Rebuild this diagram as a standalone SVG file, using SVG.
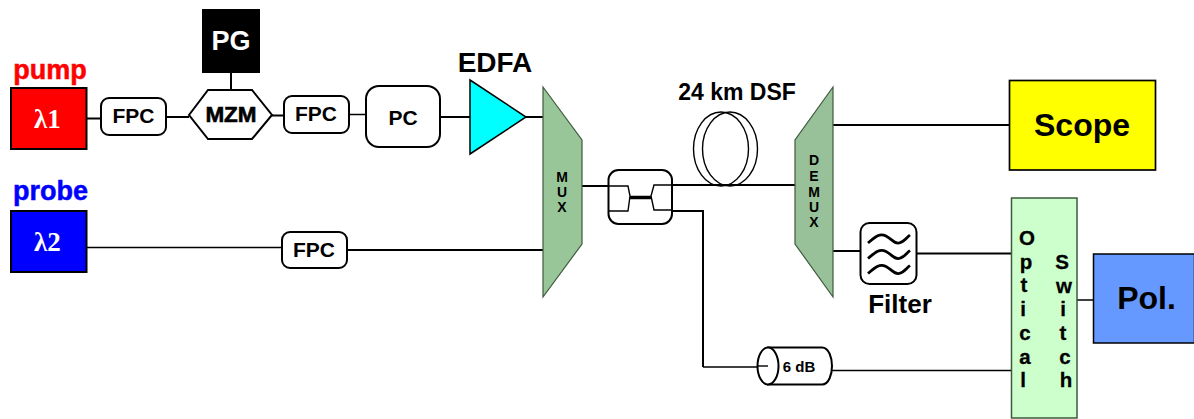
<svg xmlns="http://www.w3.org/2000/svg" width="1194" height="419" viewBox="0 0 1194 419">
<style>
text{font-family:"Liberation Sans",Arial,sans-serif;font-weight:700;text-anchor:middle;fill:#000}
.box{fill:#fff;stroke:#000;stroke-width:2}
.w1{fill:none;stroke:#000;stroke-width:1.4}
.w2{fill:none;stroke:#000;stroke-width:2}
.sym{font-family:"Liberation Serif",serif;fill:#fff;font-size:27px}
.fpc{font-size:21px}
.sm{font-size:14px}
.sw{font-size:20.500px;stroke:#000;stroke-width:.3}
.wave{fill:none;stroke:#000;stroke-width:2.8}
</style>
<rect width="1194" height="419" fill="#fff"/>
<g id="connectors">
<path class="w2" d="M86 118.500H101M166 117H189M272 115.500H283M231 73V90M440 117H470M526 117H543M347 250H543"/>
<path class="w1" d="M349 114.500H366M86 247.500H282M703 367H757M832 370.500H1011M1077 300H1093"/>
<path class="w2" d="M581 186H608M672 185H795M672 211H703V367M833 125H1009M833 251H860M916 253.500H1011"/>
</g>
<g id="pump"><text x="50" y="79" font-size="27" style="fill:#f00;stroke:#f00;stroke-width:.5">pump</text><rect x="11" y="88" width="75.500" height="61" fill="#f00" stroke="#000" stroke-width="2"/><text class="sym" x="47.500" y="128">λ1</text></g>
<g id="probe"><text x="50.500" y="200" font-size="27" style="fill:#00f;stroke:#00f;stroke-width:.5">probe</text><rect x="11" y="211" width="75.500" height="61" fill="#00f" stroke="#000" stroke-width="2"/><text class="sym" x="47.500" y="251">λ2</text></g>
<g id="pg"><rect x="202" y="9" width="58" height="64" fill="#000"/><text x="231" y="50" font-size="27" style="fill:#fff">PG</text></g>
<g id="mzm"><polygon class="box" points="189,115 208,90 252,90 272,115 252,139 208,139"/><text x="231" y="122" font-size="22.500" stroke="#000" stroke-width=".6">MZM</text></g>
<g id="fpc1"><rect class="box" x="101" y="98" width="65" height="37" rx="8"/><text class="fpc" x="133.500" y="123">FPC</text></g>
<g id="fpc2"><rect class="box" x="284" y="96" width="65" height="37" rx="8"/><text class="fpc" x="316" y="121">FPC</text></g>
<g id="fpc3"><rect class="box" x="282" y="232" width="65" height="36" rx="8"/><text class="fpc" x="314" y="257">FPC</text></g>
<g id="pc"><rect class="box" x="366" y="86" width="74" height="61" rx="13"/><text x="403" y="125" font-size="21">PC</text></g>
<g id="edfa"><polygon points="470,80 526,117 470,154" fill="#0ff" stroke="#000" stroke-width="1.500"/><text x="495" y="72" font-size="28">EDFA</text></g>
<g id="mux"><polygon points="543,87 582,140 582,244 543,297" fill="#99c699" stroke="#3c5a3c" stroke-width="1.200"/><text class="sm" x="562" y="182">M</text><text class="sm" x="562" y="197">U</text><text class="sm" x="562" y="212">X</text></g>
<g id="coupler"><rect class="box" x="608.500" y="170" width="63.500" height="54" rx="10"/><path class="w1" d="M609 186H628L630 196L628 211H609M672 185H654L651 196L654 210H672"/><path d="M630 197.500H651" stroke="#000" stroke-width="3.500"/></g>
<g id="dsf"><text x="737" y="100" font-size="23">24 km DSF</text><ellipse class="w1" cx="721" cy="149" rx="27.500" ry="37"/><ellipse class="w1" cx="730" cy="149" rx="27.500" ry="37"/></g>
<g id="demux"><polygon points="833,87 795,140 795,244 833,297" fill="#99c199" stroke="#3c5a3c" stroke-width="1.200"/><text class="sm" x="814" y="165">D</text><text class="sm" x="814" y="181">E</text><text class="sm" x="814" y="197">M</text><text class="sm" x="814" y="212">U</text><text class="sm" x="814" y="227">X</text></g>
<g id="scope"><rect x="1009.500" y="80.500" width="146" height="89.500" fill="#ff0" stroke="#000" stroke-width="1.700"/><text x="1082" y="136" font-size="32">Scope</text></g>
<g id="filter"><rect class="box" x="860.500" y="223" width="56" height="61" rx="9"/><path class="wave" d="M868 243C876 236 880 233 886 236S894 244 899 243S906 238 910 235M868 258.500C876 251.500 880 248.500 886 251.500S894 259.500 899 258.500S906 253.500 910 250.500M868 273.500C876 266.500 880 263.500 886 266.500S894 274.500 899 273.500S906 268.500 910 265.500"/><text x="900" y="313" font-size="26">Filter</text></g>
<g id="switch"><rect x="1011.500" y="198" width="65.500" height="220" fill="#cfc" stroke="#3c5a3c" stroke-width="1.500"/><text class="sw" x="1027" y="245">O</text><text class="sw" x="1026" y="269">p</text><text class="sw" x="1024" y="292">t</text><text class="sw" x="1023" y="316">i</text><text class="sw" x="1025" y="340">c</text><text class="sw" x="1025" y="364">a</text><text class="sw" x="1023" y="387">l</text><text class="sw" x="1062" y="269">S</text><text class="sw" x="1064" y="293">w</text><text class="sw" x="1063" y="316">i</text><text class="sw" x="1063" y="340">t</text><text class="sw" x="1065" y="364">c</text><text class="sw" x="1066" y="387">h</text></g>
<g id="pol"><rect x="1093.500" y="254" width="101" height="89" fill="#69f" stroke="#000" stroke-width="1.500"/><text x="1146.500" y="309" font-size="32">Pol.</text></g>
<g id="attenuator"><path class="box" d="M768 347.500H822C829 347.500 832 358 832 366C832 374 829 384.500 822 384.500H768Z"/><ellipse class="box" cx="768" cy="366" rx="10.500" ry="18.500"/><path class="w1" d="M757 366H768"/><text x="799" y="372" font-size="15">6 dB</text></g>
</svg>
